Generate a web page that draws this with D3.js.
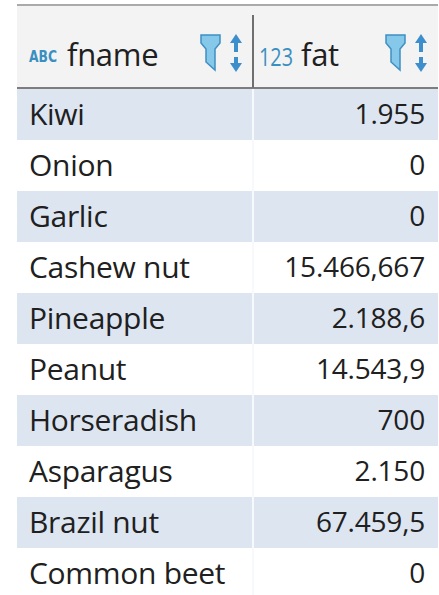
<!DOCTYPE html>
<html>
<head>
<meta charset="utf-8">
<script src="https://cdn.jsdelivr.net/npm/d3@7"></script>
<style>
  html, body { margin: 0; padding: 0; background: #fff; }
  svg { display: block; }
</style>
</head>
<body>
<div id="grid"></div>
<script>
var fnames = ['Kiwi', 'Onion', 'Garlic', 'Cashew nut', 'Pineapple', 'Peanut',
  'Horseradish', 'Asparagus', 'Brazil nut', 'Common beet'];
var fat = [1955, 0, 0, 15466.667, 2188.6, 14543.9, 700, 2150, 67459.5, 0];
var columns = ['fname', 'fat'];
var colTypes = ['ABC', '123'];

var width = 439,
  height = 595,
  left = 17,
  right = 438,
  split = 253,
  headTop = 5,
  headBottom = 88;

// european style numbers: 15.466,667
var locale = d3.formatLocale({decimal: ',', thousands: '.', grouping: [3], currency: ['', '']});
var fmt = locale.format(',.3~f');

var svg = d3.select('#grid')
  .append('svg')
  .attr('width', width)
  .attr('height', height);

var yScale = d3.scaleBand()
  .domain(fnames)
  .range([headBottom + 1, height + 4]);

var xScale = d3.scaleOrdinal()
  .domain(columns)
  .range([[left, split], [split, right]]);

// header
svg.append('rect')
  .attr('x', left).attr('y', headTop)
  .attr('width', right - left).attr('height', headBottom - headTop)
  .attr('fill', '#f3f3f3');
svg.append('line')
  .attr('x1', left).attr('x2', right)
  .attr('y1', headTop).attr('y2', headTop)
  .attr('stroke', '#aaaaaa').attr('stroke-width', 2);

// rows
var rows = svg.append('g')
  .selectAll('g')
  .data(fnames)
  .enter()
  .append('g');

rows.append('rect')
  .attr('x', left)
  .attr('y', function(d) { return yScale(d); })
  .attr('width', right - left)
  .attr('height', yScale.bandwidth())
  .attr('fill', function(d, i) {
    return i % 2 == 0 ? '#dde5f1' : '#ffffff';
  });

rows.append('text')
  .attr('x', xScale('fname')[0] + 12)
  .attr('y', function(d) { return yScale(d) + yScale.bandwidth() / 2; })
  .attr('dy', '0.34em')
  .style('font-family', '"Open Sans", sans-serif')
  .style('font-size', '30px')
  .style('letter-spacing', '-0.3px')
  .attr('fill', '#202020')
  .text(function(d) { return d; });

rows.append('text')
  .attr('x', xScale('fat')[1] - 13)
  .attr('y', function(d) { return yScale(d) + yScale.bandwidth() / 2; })
  .attr('dy', '0.34em')
  .attr('text-anchor', 'end')
  .style('font-family', '"Open Sans", sans-serif')
  .style('font-size', '28px')
  .style('letter-spacing', '-0.2px')
  .attr('fill', '#202020')
  .text(function(d, i) { return fmt(fat[i]); });

// light column separator in body
svg.append('line')
  .attr('x1', split).attr('x2', split)
  .attr('y1', headBottom).attr('y2', height)
  .attr('stroke', '#f7f9fc').attr('stroke-width', 2);

// header bottom + divider
svg.append('line')
  .attr('x1', left).attr('x2', right)
  .attr('y1', headBottom).attr('y2', headBottom)
  .attr('stroke', '#7d7d7d').attr('stroke-width', 2);
svg.append('line')
  .attr('x1', split).attr('x2', split)
  .attr('y1', 15).attr('y2', headBottom)
  .attr('stroke', '#6f6f6f').attr('stroke-width', 2);

// header cells
var heads = svg.append('g')
  .selectAll('g')
  .data(columns)
  .enter()
  .append('g')
  .attr('transform', function(d) {
    return 'translate(' + xScale(d)[0] + ',0)';
  });

heads.append('text')
  .attr('x', function(d, i) { return i == 0 ? 12 : 6; })
  .attr('y', function(d, i) { return i == 0 ? 62 : 66; })
  .attr('textLength', function(d, i) { return i == 0 ? 28 : 34; })
  .attr('lengthAdjust', 'spacingAndGlyphs')
  .style('font-family', function(d, i) {
    return i == 0 ? '"DejaVu Sans", sans-serif' : '"Open Sans", sans-serif';
  })
  .style('font-size', function(d, i) { return i == 0 ? '16px' : '26px'; })
  .style('font-weight', function(d, i) { return i == 0 ? 'bold' : 'normal'; })
  .attr('fill', '#3a8fc0')
  .text(function(d, i) { return colTypes[i]; });

heads.append('text')
  .attr('x', function(d, i) { return i == 0 ? 50 : 48; })
  .attr('y', 66)
  .style('font-family', '"Open Sans", sans-serif')
  .style('font-size', '31px')
  .style('letter-spacing', '-0.3px')
  .attr('fill', '#202020')
  .text(function(d) { return d; });

// filter funnel + sort arrows
var icons = heads.append('g')
  .attr('transform', function(d) {
    var w = xScale(d)[1] - xScale(d)[0];
    return 'translate(' + (w - 52) + ',0)';
  });

icons.append('path')
  .attr('d', 'M0,35 H19 V43 L14,49 V70 L5,62 V49 L0,43 Z')
  .attr('fill', '#86c8ea')
  .attr('stroke', '#3f8fc2')
  .attr('stroke-width', 1.5);

icons.append('path')
  .attr('d', 'M35,34 L41,43 H37 V52 H33 V43 H29 Z')
  .attr('fill', '#3d8ecd');
icons.append('path')
  .attr('d', 'M33,57 H37 V63 H41 L35,72 L29,63 H33 Z')
  .attr('fill', '#3d8ecd');
</script>
</body>
</html>
